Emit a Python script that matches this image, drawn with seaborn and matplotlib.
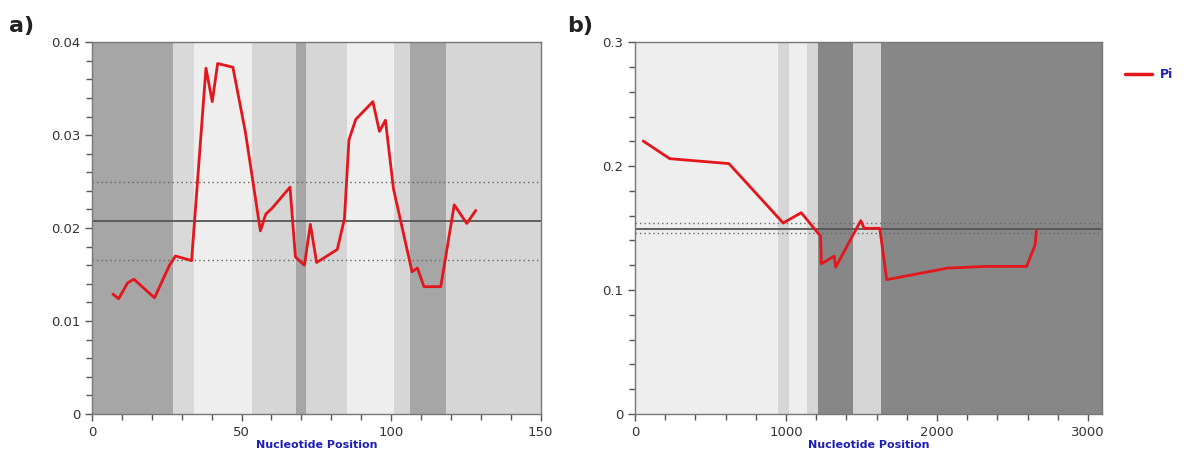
import numpy as np
import pandas as pd
import matplotlib
matplotlib.use("Agg")
import matplotlib.pyplot as plt
from matplotlib.ticker import MultipleLocator
import seaborn as sns

# --- panel a) data ---
pos_a = [7.0, 8.9, 11.9, 14.0, 20.9, 25.9, 27.9, 33.3, 38.1, 40.2, 42.0, 47.1,
         51.3, 56.3, 58.1, 60.1, 66.2, 68.0, 71.0, 73.0, 75.1, 82.0, 84.4, 85.9,
         88.2, 93.9, 96.1, 98.1, 100.8, 107.0, 108.8, 111.0, 116.6, 121.1, 125.3, 128.3]
pi_a = [0.0129, 0.0124, 0.0141, 0.0145, 0.0125, 0.0160, 0.0170, 0.0165, 0.0372, 0.0336,
        0.0377, 0.0373, 0.0303, 0.0197, 0.0215, 0.0221, 0.0244, 0.0169, 0.0160, 0.0204,
        0.0163, 0.0177, 0.0210, 0.0295, 0.0317, 0.0336, 0.0304, 0.0316, 0.0242, 0.0153,
        0.0157, 0.0137, 0.0137, 0.0225, 0.0205, 0.0219]
mean_a = 0.0208
band_lo_a, band_hi_a = 0.0166, 0.0250
edges_a = [0, 27.2, 34.1, 53.5, 68.1, 71.6, 85.2, 101.1, 106.4, 118.4, 150]
shades_a = ["#a6a6a6", "#d9d9d9", "#eeeeee", "#d6d6d6", "#a6a6a6",
            "#d6d6d6", "#eeeeee", "#d6d6d6", "#a6a6a6", "#d6d6d6"]

# --- panel b) data ---
pos_b = [54, 230, 622, 981, 1101, 1229, 1234, 1319, 1329, 1495, 1518, 1621,
         1667, 2069, 2325, 2594, 2650, 2658]
pi_b = [0.2202, 0.2060, 0.2020, 0.1541, 0.1624, 0.1434, 0.1212, 0.1274, 0.1185,
        0.1560, 0.1498, 0.1498, 0.1084, 0.1177, 0.1191, 0.1191, 0.1365, 0.1480]
mean_b = 0.1493
band_lo_b, band_hi_b = 0.1458, 0.1539
edges_b = [0, 945, 1022, 1137, 1214, 1444, 1626, 3090]
shades_b = ["#eeeeee", "#d6d6d6", "#eeeeee", "#d6d6d6", "#878787", "#d6d6d6", "#878787"]

sns.set_theme(style="white")
plt.rcParams["font.family"] = ["DejaVu Sans"]

fig = plt.figure(figsize=(11.87, 4.53), dpi=100)
ax_a = fig.add_axes([0.0775, 0.086, 0.378, 0.821])
ax_b = fig.add_axes([0.535, 0.086, 0.393, 0.821])

line_red = "#e3161b"
blue = "#1f1fb4"


def draw_panel(ax, pos, pi, edges, shades, mean, lo, hi, xmax, ymax, xmaj, xmin_, ymaj, ymin_, yfmt):
    for left, right, c in zip(edges[:-1], edges[1:], shades):
        ax.axvspan(left, right, color=c, lw=0, zorder=0)
    ax.axhline(mean, color="#555555", lw=1.3, zorder=1)
    ax.axhline(lo, color="#666666", lw=1.0, ls=(0, (1, 2.2)), zorder=1)
    ax.axhline(hi, color="#666666", lw=1.0, ls=(0, (1, 2.2)), zorder=1)
    df = pd.DataFrame({"pos": pos, "pi": pi})
    sns.lineplot(data=df, x="pos", y="pi", ax=ax, color=line_red, lw=2,
                 sort=False, estimator=None, zorder=3, legend=False)
    ax.set_xlim(0, xmax)
    ax.set_ylim(0, ymax)
    ax.xaxis.set_major_locator(MultipleLocator(xmaj))
    ax.xaxis.set_minor_locator(MultipleLocator(xmin_))
    ax.yaxis.set_major_locator(MultipleLocator(ymaj))
    ax.yaxis.set_minor_locator(MultipleLocator(ymin_))
    ax.yaxis.set_major_formatter(plt.FuncFormatter(yfmt))
    ax.tick_params(which="both", direction="out", color="#555555", labelsize=9.5,
                   labelcolor="#333333", bottom=True, left=True)
    ax.tick_params(which="major", length=5, width=1)
    ax.tick_params(which="minor", length=4, width=1)
    for s in ax.spines.values():
        s.set_color("#777777")
        s.set_linewidth(1)
    ax.set_xlabel("Nucleotide Position", color=blue, fontsize=8, fontweight="bold", labelpad=1)
    ax.set_ylabel("")


draw_panel(ax_a, pos_a, pi_a, edges_a, shades_a, mean_a, band_lo_a, band_hi_a,
           150, 0.04, 50, 10, 0.01, 0.002,
           lambda v, p: "0" if v == 0 else f"{v:.2f}")
draw_panel(ax_b, pos_b, pi_b, edges_b, shades_b, mean_b, band_lo_b, band_hi_b,
           3090, 0.3, 1000, 200, 0.1, 0.02,
           lambda v, p: "0" if v == 0 else f"{v:.1f}")

fig.text(0.008, 0.93, "a)", fontsize=16, fontweight="bold", color="#222222")
fig.text(0.478, 0.93, "b)", fontsize=16, fontweight="bold", color="#222222")

# legend
handle = plt.Line2D([], [], color=line_red, lw=2.5)
leg = fig.legend([handle], ["Pi"], loc="upper left", bbox_to_anchor=(0.938, 0.875),
                 frameon=False, handlelength=2.2, handletextpad=0.6,
                 prop={"weight": "bold", "size": 9})
for t in leg.get_texts():
    t.set_color(blue)

fig.savefig("out.png", dpi=100)
